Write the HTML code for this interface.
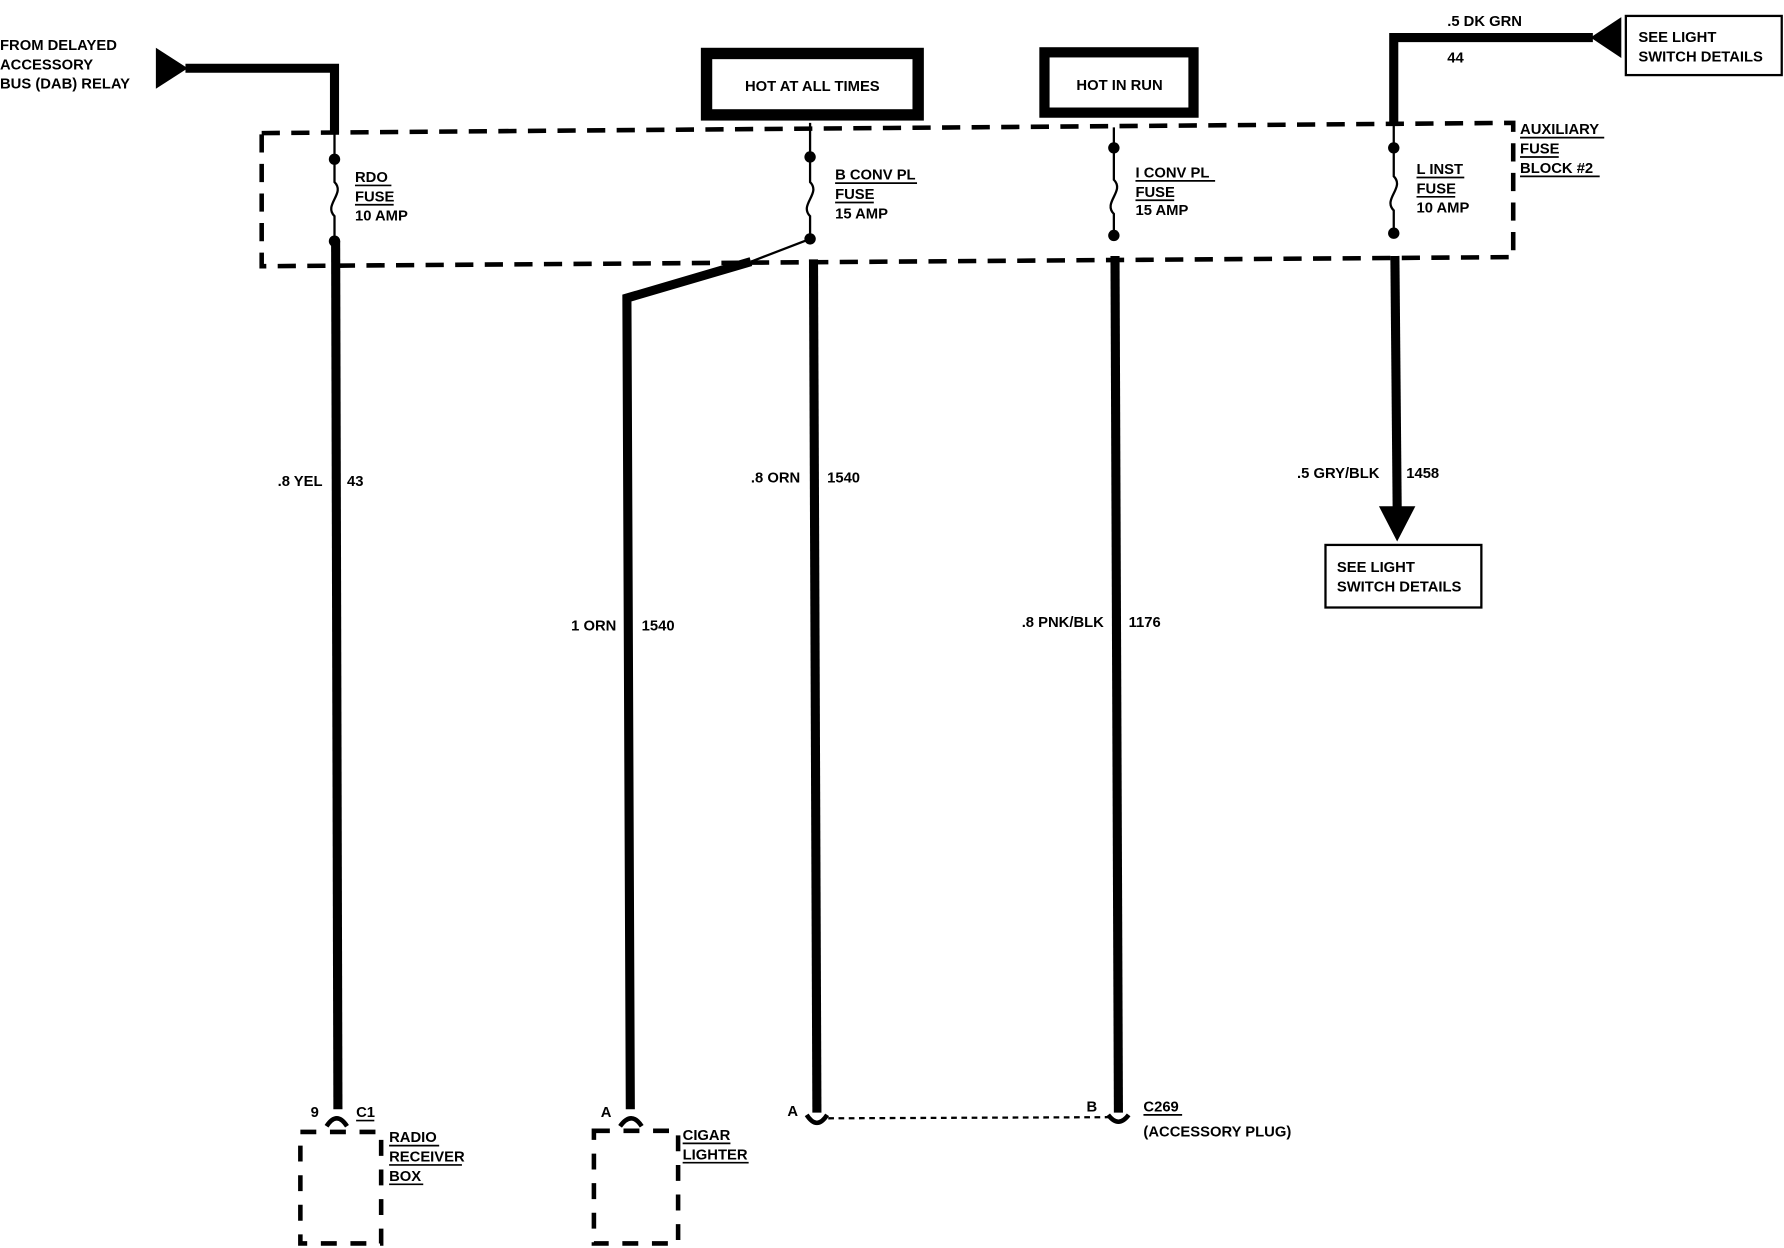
<!DOCTYPE html>
<html><head><meta charset="utf-8"><style>
html,body{margin:0;padding:0;background:#fff;width:1784px;height:1248px;overflow:hidden}
svg text{font-family:"Liberation Sans",sans-serif;font-weight:bold;font-size:13px;fill:#000}
</style></head><body>
<svg width="1784" height="1248" viewBox="0 0 1568 1097" preserveAspectRatio="none" xmlns="http://www.w3.org/2000/svg">
<g fill="none" stroke="#000">
<!-- dashed fuse block -->
<path d="M230,117 L1330,108 L1330,226 L230,234 Z" stroke-width="4" stroke-dasharray="16 10"/>
<!-- top left feed -->
<path d="M163,60 L294,60 L294,117" stroke-width="8"/>
<!-- fuse 1 -->
<path d="M294,117 L294,160 C304,170 284,180 294,190 L294,212" stroke-width="2"/>
<path d="M295,212 L297,975" stroke-width="8"/>
<!-- fuse 2 -->
<path d="M712,108 L712,160 C722,170 702,180 712,190 L712,210" stroke-width="2"/>
<path d="M712,210 L660,230" stroke-width="2"/>
<path d="M660,230 L551,262 L554,975" stroke-width="8"/>
<path d="M715,228 L718,978" stroke-width="8"/>
<!-- fuse 3 -->
<path d="M979,112 L979,158 C989,168 969,178 979,188 L979,207" stroke-width="2"/>
<path d="M980,225 L983,978" stroke-width="8"/>
<!-- fuse 4 -->
<path d="M1225,108 L1225,33 L1400,33" stroke-width="8"/>
<path d="M1225,108 L1225,155 C1235,165 1215,175 1225,185 L1225,205" stroke-width="2"/>
<path d="M1226,225 L1228,446" stroke-width="8"/>
<!-- boxes -->
<rect x="621" y="47" width="186" height="54" stroke-width="10"/>
<rect x="918" y="46" width="131" height="53" stroke-width="9"/>
<rect x="1429" y="14" width="137" height="52" stroke-width="2"/>
<rect x="1165" y="479" width="137" height="55" stroke-width="2"/>
<!-- connectors -->
<path d="M287,990 Q296,976 305,990" stroke-width="4"/>
<path d="M545,990 Q555,976 564,990" stroke-width="4"/>
<path d="M709,980 Q718,994 727,980" stroke-width="4"/>
<path d="M974,980 Q983,992 992,980" stroke-width="4"/>
<path d="M728,983 L975,982" stroke-width="2" stroke-dasharray="5 4"/>
<rect x="264" y="995" width="71" height="98" stroke-width="4" stroke-dasharray="14 12"/>
<rect x="522" y="994" width="74" height="99" stroke-width="4" stroke-dasharray="14 12"/>
<!-- underlines -->
<path d="M312,163h32M312,180h34M734,161h72M734,178h34M998,159h70M998,176h34M1245,156h42M1245,173h34M1336,121h74M1336,138h34M1336,155h70M313,985h16M342,1007h44M342,1024h64M342,1041h30M600,1005h42M600,1022h58M1005,980h34" stroke-width="1.5"/>
</g>
<g fill="#000">
<polygon points="137,42 137,78 165,60"/>
<polygon points="1398,33 1425,15 1425,51"/>
<polygon points="1212,445 1244,445 1228,476"/>
<circle cx="294" cy="140" r="5"/><circle cx="294" cy="212" r="5"/>
<circle cx="712" cy="138" r="5"/><circle cx="712" cy="210" r="5"/>
<circle cx="979" cy="130" r="5"/><circle cx="979" cy="207" r="5"/>
<circle cx="1225" cy="130" r="5"/><circle cx="1225" cy="205" r="5"/>
</g>
<text x="0" y="44">FROM DELAYED</text>
<text x="0" y="61">ACCESSORY</text>
<text x="0" y="78">BUS (DAB) RELAY</text>
<text x="714" y="80" text-anchor="middle">HOT AT ALL TIMES</text>
<text x="984" y="79" text-anchor="middle">HOT IN RUN</text>
<text x="1440" y="37">SEE LIGHT</text>
<text x="1440" y="54">SWITCH DETAILS</text>
<text x="1272" y="23">.5 DK GRN</text>
<text x="1272" y="55">44</text>
<text x="312" y="160">RDO</text><text x="312" y="177">FUSE</text><text x="312" y="194">10 AMP</text>
<text x="734" y="158">B CONV PL</text><text x="734" y="175">FUSE</text><text x="734" y="192">15 AMP</text>
<text x="998" y="156">I CONV PL</text><text x="998" y="173">FUSE</text><text x="998" y="189">15 AMP</text>
<text x="1245" y="153">L INST</text><text x="1245" y="170">FUSE</text><text x="1245" y="187">10 AMP</text>
<text x="1336" y="118">AUXILIARY</text><text x="1336" y="135">FUSE</text><text x="1336" y="152">BLOCK #2</text>
<text x="244" y="427">.8 YEL</text><text x="305" y="427">43</text>
<text x="660" y="424">.8 ORN</text><text x="727" y="424">1540</text>
<text x="502" y="554">1 ORN</text><text x="564" y="554">1540</text>
<text x="898" y="551">.8 PNK/BLK</text><text x="992" y="551">1176</text>
<text x="1140" y="420">.5 GRY/BLK</text><text x="1236" y="420">1458</text>
<text x="1175" y="503">SEE LIGHT</text><text x="1175" y="520">SWITCH DETAILS</text>
<text x="273" y="982">9</text><text x="313" y="982">C1</text>
<text x="342" y="1004">RADIO</text><text x="342" y="1021">RECEIVER</text><text x="342" y="1038">BOX</text>
<text x="528" y="982">A</text>
<text x="600" y="1002">CIGAR</text><text x="600" y="1019">LIGHTER</text>
<text x="692" y="981">A</text><text x="955" y="977">B</text>
<text x="1005" y="977">C269</text><text x="1005" y="999">(ACCESSORY PLUG)</text>
</svg>
</body></html>
